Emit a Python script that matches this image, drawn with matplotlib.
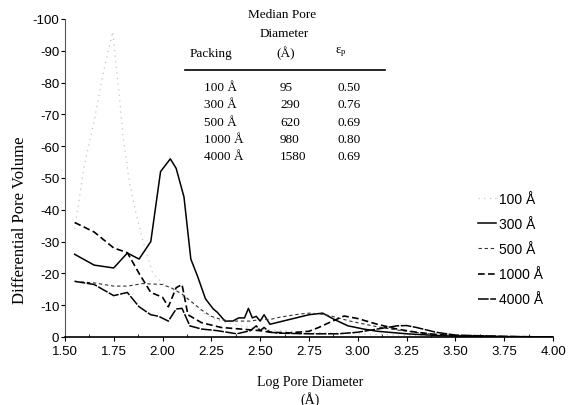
import matplotlib
matplotlib.use("Agg")
import matplotlib.pyplot as plt
from matplotlib.ticker import MultipleLocator

# log pore diameter (x) and differential pore volume (shown negative, axis inverted)
x100 = [1.55, 1.60, 1.65, 1.70, 1.745, 1.78, 1.80, 1.83, 1.86, 1.90, 1.95, 2.00, 2.05, 2.10,
        2.15, 2.20, 2.25, 2.30, 2.40, 2.50, 2.60, 2.75, 3.00, 3.25, 3.50, 4.00]
v100 = [34, 54, 68, 84, 96, 75, 62, 49, 40, 30, 20, 17, 15, 13,
        11, 8, 6, 5, 3.5, 2.5, 2, 1.5, 1, 0.5, 0.3, 0]

x300 = [1.55, 1.65, 1.75, 1.82, 1.88, 1.94, 1.99, 2.04, 2.07, 2.11, 2.145, 2.18, 2.22, 2.26,
        2.28, 2.32, 2.36, 2.39, 2.42, 2.44, 2.46, 2.48, 2.50, 2.52, 2.55, 2.65, 2.75, 2.82,
        2.88, 2.95, 3.03, 3.10, 3.25, 3.40, 3.50, 3.75, 4.00]
v300 = [26, 22.6, 21.7, 26.4, 24.5, 30, 52, 56, 53, 44, 24.5, 19, 12, 8.8,
        7.8, 5, 5, 6, 6, 9, 6, 6.5, 5, 7, 4, 5.5, 7, 7.5,
        5.5, 3.5, 2.5, 1.8, 1, 0.5, 0.3, 0.1, 0]

x500 = [1.55, 1.65, 1.75, 1.82, 1.90, 2.00, 2.05, 2.10, 2.15, 2.20, 2.25, 2.30, 2.35, 2.40,
        2.45, 2.50, 2.55, 2.60, 2.70, 2.75, 2.80, 2.85, 2.90, 2.96, 3.10, 3.20, 3.33, 3.40,
        3.50, 3.75, 4.00]
v500 = [17.5, 17, 16, 16, 16.8, 16.5, 15.3, 13.5, 11, 8.5, 6.5, 5.5, 5, 5,
        5, 5.5, 5.5, 6.2, 7.2, 7.5, 7.3, 6.8, 6, 5, 3.2, 2.2, 1.2, 0.8,
        0.4, 0.1, 0]

x1000 = [1.55, 1.65, 1.75, 1.82, 1.88, 1.94, 2.00, 2.03, 2.07, 2.10, 2.13, 2.20, 2.30, 2.40,
         2.50, 2.55, 2.65, 2.75, 2.80, 2.86, 2.93, 3.00, 3.10, 3.20, 3.30, 3.40, 3.50, 3.75, 4.00]
v1000 = [36, 33, 28, 26.5, 20, 14, 12.5, 9.5, 15.5, 16.5, 7, 4.5, 3, 2.5,
         2, 1.5, 1.3, 1.8, 3, 4.7, 6.6, 5.8, 4, 2.5, 1.5, 0.8, 0.4, 0.1, 0]

x4000 = [1.55, 1.65, 1.75, 1.82, 1.88, 1.94, 1.98, 2.03, 2.07, 2.10, 2.14, 2.20, 2.28, 2.38,
         2.45, 2.48, 2.50, 2.52, 2.55, 2.60, 2.75, 2.90, 3.00, 3.10, 3.20, 3.25, 3.30, 3.40,
         3.50, 3.75, 4.00]
v4000 = [17.5, 16.5, 13, 14, 9.5, 7, 6.5, 5, 8.8, 9, 3.5, 2.5, 2, 1,
         2, 3.5, 2, 3, 1.5, 1.2, 1, 1, 1.5, 2.5, 3.5, 3.6, 3, 1.5,
         0.6, 0.2, 0]

packing = ["100 Å", "300 Å", "500 Å", "1000 Å", "4000 Å"]
median_d = ["95", "290", "620", "980", "1580"]
eps_p = ["0.50", "0.76", "0.69", "0.80", "0.69"]

serif = "Liberation Serif"
sans = "Liberation Sans"

fig = plt.figure(figsize=(5.69, 4.06), dpi=100)
ax = fig.add_axes([0.114, 0.1675, 0.858, 0.7835])

ax.plot(x100, [-v for v in v100], color="#c4c4c4", lw=0.9, ls=(0, (1, 3.5)), label=packing[0])
ax.plot(x300, [-v for v in v300], color="black", lw=1.1, ls="-", label=packing[1])
ax.plot(x500, [-v for v in v500], color="#333333", lw=0.8, ls=(0, (3, 2.5)), label=packing[2])
ax.plot(x1000, [-v for v in v1000], color="black", lw=1.2, ls=(0, (4, 2)), label=packing[3])
ax.plot(x4000, [-v for v in v4000], color="black", lw=1.1, ls=(0, (7, 1)), label=packing[4])

ax.set_xlim(1.5, 4.0)
ax.set_ylim(0, -100)
ax.xaxis.set_major_locator(MultipleLocator(0.25))
ax.xaxis.set_minor_locator(MultipleLocator(0.125))
ax.yaxis.set_major_locator(MultipleLocator(10))
ax.set_xticklabels([f"{t:.2f}" for t in ax.get_xticks()])
ax.set_yticklabels([f"{int(t)}" for t in ax.get_yticks()])
ax.tick_params(axis="both", labelsize=9.5, length=3, width=0.8, pad=1)
ax.tick_params(axis="x", which="major", pad=2.5)
ax.tick_params(axis="x", which="minor", direction="in", length=2)
for lab in ax.get_xticklabels() + ax.get_yticklabels():
    lab.set_fontfamily(sans)
for s in ["top", "right"]:
    ax.spines[s].set_visible(False)
ax.spines["left"].set_color("#555555")
ax.spines["bottom"].set_linewidth(1.2)

fig.text(0.036, 1 - 220 / 406, "Differential Pore Volume", rotation=90, ha="center", va="center",
         fontsize=12, family=serif)
fig.text(0.545, 0.057, "Log Pore Diameter", ha="center", va="center", fontsize=10, family=serif)
fig.text(0.545, 0.015, "(Å)", ha="center", va="center", fontsize=10, family=serif)

leg = ax.legend(loc="upper left", bbox_to_anchor=(0.82, 0.495), frameon=False,
                prop={"family": sans, "size": 10}, handlelength=1.3, handletextpad=0.2,
                labelspacing=0.8)

# inset table
tk = dict(fontsize=9.5, family=serif, transform=fig.transFigure)
fig.text(282 / 569, 1 - 15 / 406, "Median Pore", ha="center", va="center", **tk)
fig.text(284 / 569, 1 - 34 / 406, "Diameter", ha="center", va="center", **tk)
fig.text(211 / 569, 1 - 54 / 406, "Packing", ha="center", va="center", **tk)
fig.text(286 / 569, 1 - 54 / 406, "(Å)", ha="center", va="center", **tk)
fig.text(341 / 569, 1 - 52 / 406, r"$\mathregular{\varepsilon_p}$", ha="center", va="center",
         fontsize=9, family=serif, transform=fig.transFigure)
fig.add_artist(plt.Line2D([185 / 569, 385 / 569], [1 - 71 / 406, 1 - 71 / 406],
                          color="black", lw=1.2, transform=fig.transFigure))
for i in range(len(packing)):
    yy = 1 - (88 + i * 17.3) / 406
    fig.text(204 / 569, yy, packing[i], ha="left", va="center", **tk)
    fig.text(280 / 569, yy, median_d[i], ha="left", va="center", **tk)
    fig.text(338 / 569, yy, eps_p[i], ha="left", va="center", **tk)

fig.savefig("out.png", dpi=100)
